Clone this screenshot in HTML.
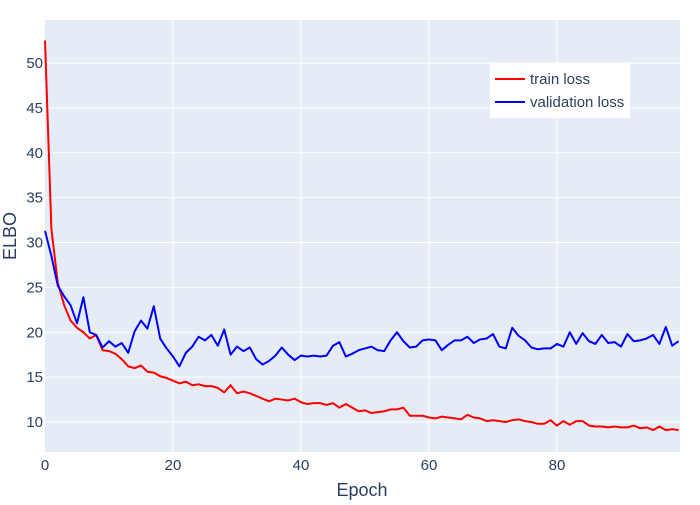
<!DOCTYPE html>
<html><head><meta charset="utf-8"><style>
body{margin:0;background:#fff;font-family:"Liberation Sans",sans-serif}
svg text{font-family:"Liberation Sans",sans-serif;fill:#2a3f5f}
</style></head><body>
<svg id="chart" width="700" height="500" xmlns="http://www.w3.org/2000/svg">
<rect x="0" y="0" width="700" height="500" fill="#fff"/>
<rect x="45" y="20" width="635" height="432" fill="#e5ecf6"/>
<g id="grid"></g><g id="lines"></g><g id="axes"></g>
<g>
<rect x="490" y="63" width="140" height="55" fill="#fff"/>
<g><line x1="495" y1="79" x2="525" y2="79" stroke="#ff0000" stroke-width="2"/><text x="530" y="84" font-size="15">train loss</text></g>
<g><line x1="495" y1="102" x2="525" y2="102" stroke="#0000ff" stroke-width="2"/><text x="530" y="107" font-size="15">validation loss</text></g>
</g>
<text x="362" y="496" font-size="18" text-anchor="middle">Epoch</text>
<text transform="translate(16,236) rotate(-90)" font-size="18" text-anchor="middle">ELBO</text>
</svg>
<script>
const train=[52.5,31.5,25.5,23,21.3,20.5,20,19.3,19.7,18,17.9,17.6,17,16.2,16,16.3,15.6,15.5,15.1,14.9,14.6,14.3,14.5,14.1,14.2,14,14,13.8,13.3,14.1,13.2,13.4,13.2,12.9,12.6,12.3,12.6,12.5,12.4,12.6,12.2,12,12.1,12.1,11.9,12.1,11.6,12,11.6,11.2,11.3,11,11.1,11.2,11.4,11.4,11.6,10.7,10.7,10.7,10.5,10.4,10.6,10.5,10.4,10.3,10.8,10.5,10.4,10.1,10.2,10.1,10,10.2,10.3,10.1,10,9.8,9.8,10.2,9.6,10.1,9.7,10.1,10.1,9.6,9.5,9.5,9.4,9.5,9.4,9.4,9.6,9.3,9.4,9.1,9.5,9.1,9.2,9.1];
const validation=[31.3,28.5,25.2,24,23,21,23.9,20,19.7,18.3,19,18.4,18.8,17.7,20.1,21.3,20.4,22.9,19.3,18.2,17.3,16.2,17.7,18.4,19.5,19.1,19.7,18.5,20.3,17.5,18.4,17.9,18.3,17,16.4,16.8,17.4,18.3,17.5,16.9,17.4,17.3,17.4,17.3,17.4,18.5,18.9,17.3,17.6,18,18.2,18.4,18,17.9,19.1,20,19,18.3,18.4,19.1,19.2,19.1,18,18.6,19.1,19.1,19.5,18.8,19.2,19.3,19.8,18.4,18.2,20.5,19.6,19.1,18.3,18.1,18.2,18.2,18.7,18.4,20,18.7,19.9,19,18.7,19.7,18.8,18.9,18.4,19.8,19,19.1,19.3,19.7,18.7,20.6,18.5,19];
const xTicks=[0,20,40,60,80];
const yTicks=[10,15,20,25,30,35,40,45,50];
const X=v=>45+v*6.4, Y=v=>511.75-v*8.975;
const NS="http://www.w3.org/2000/svg";
const grid=document.getElementById('grid'),axes=document.getElementById('axes'),lines=document.getElementById('lines');
function mk(t,a,p){const e=document.createElementNS(NS,t);for(const k in a)e.setAttribute(k,a[k]);p.appendChild(e);return e;}
xTicks.forEach(t=>{
 if(t>0){const l=mk('line',{x1:X(t),x2:X(t),y1:20,y2:452,stroke:'#fff','stroke-width':1},grid);
 
 }
 const tx=mk('text',{x:X(t),y:470,'font-size':15,'text-anchor':'middle'},axes);tx.textContent=t;
 
 
});
yTicks.forEach(t=>{
 const l=mk('line',{x1:45,x2:680,y1:Y(t),y2:Y(t),stroke:'#fff','stroke-width':1},grid);
 
 
 const tx=mk('text',{x:43,y:Y(t)+5,'font-size':15,'text-anchor':'end'},axes);tx.textContent=t;
 
 
});
function series(d,c,n){
 const p=mk('polyline',{points:d.map((v,i)=>X(i)+','+Y(v)).join(' '),fill:'none',stroke:c,'stroke-width':2,'stroke-linejoin':'round'},lines);
 
 
}
series(train,'#ff0000','train-loss-line');
series(validation,'#0000ff','validation-loss-line');
</script>
</body></html>
